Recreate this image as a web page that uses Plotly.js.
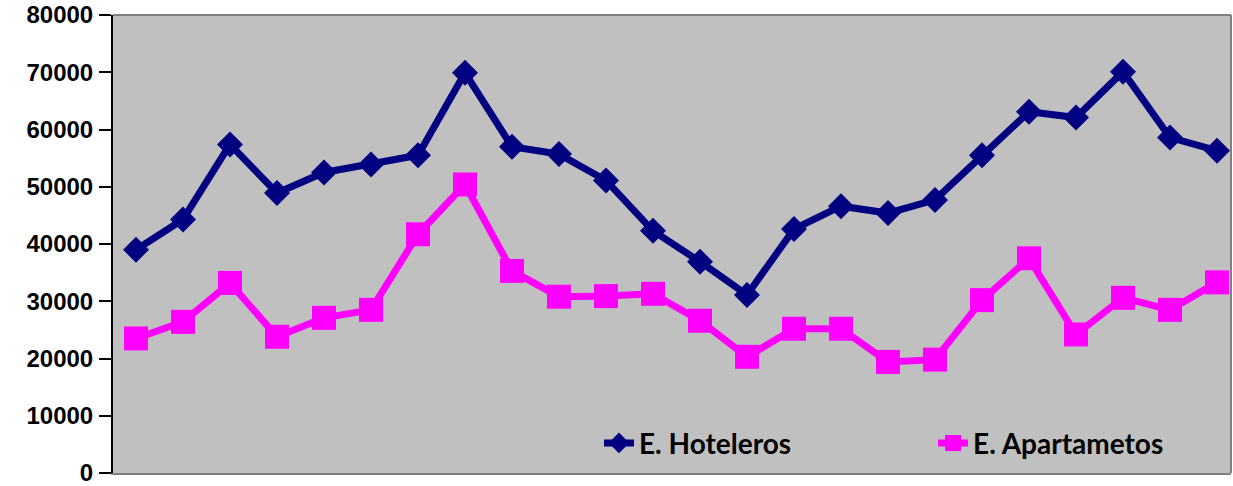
<!DOCTYPE html>
<html>
<head>
<meta charset="utf-8">
<script src="https://cdn.plot.ly/plotly-3.0.1.min.js"></script>
<style>html,body{margin:0;padding:0;background:#fff;}#chart{width:1233px;height:486px;}</style>
</head>
<body>
<div id="chart"></div>
<script>
// Periods (no labels shown on the x axis in the reference)
const periods = [1,2,3,4,5,6,7,8,9,10,11,12,13,14,15,16,17,18,19,20,21,22,23,24];
const hoteleros = [39000,44300,57400,48900,52500,53900,55500,69900,57000,55700,51100,42300,36900,31100,42600,46600,45400,47700,55500,63100,62100,70100,58600,56300];
const apartamentos = [23500,26400,33200,23800,27100,28500,41700,50400,35300,30800,30900,31300,26600,20300,25200,25200,19400,19800,30200,37500,24200,30600,28500,33300];
const seriesNames = ["E. Hoteleros", "E. Apartametos"];
const yTicks = [0,10000,20000,30000,40000,50000,60000,70000,80000];
const yTickText = ["0","10000","20000","30000","40000","50000","60000","70000","80000"];

const legendFont = {family: 'Lato, "Open Sans", sans-serif', size: 28, color: '#000000', weight: 'bold'};

const traces = [
  {x: periods, y: hoteleros, name: seriesNames[0], type: 'scatter', mode: 'lines+markers', legend: 'legend',
   line: {color: '#000080', width: 7}, marker: {symbol: 'diamond', size: 20, color: '#000080'}},
  {x: periods, y: apartamentos, name: seriesNames[1], type: 'scatter', mode: 'lines+markers', legend: 'legend2',
   line: {color: '#FF00FF', width: 7}, marker: {symbol: 'square', size: 24, color: '#FF00FF'}}
];

const layout = {
  width: 1233, height: 486,
  margin: {l: 113, r: 2, t: 15, b: 13},
  paper_bgcolor: '#FFFFFF',
  plot_bgcolor: '#C0C0C0',
  showlegend: true,
  legend: {x: 0.4347, y: 0.065, xanchor: 'left', yanchor: 'middle',
    bgcolor: 'rgba(0,0,0,0)', font: legendFont},
  legend2: {x: 0.7335, y: 0.065, xanchor: 'left', yanchor: 'middle',
    bgcolor: 'rgba(0,0,0,0)', font: legendFont},
  xaxis: {range: [0.511, 24.298], showticklabels: false, showgrid: false, zeroline: false,
    showline: true, linecolor: '#808080', linewidth: 2, ticks: ''},
  yaxis: {range: [0, 80000], tickvals: yTicks, ticktext: yTickText, showgrid: false, zeroline: false,
    showline: true, linecolor: '#000000', linewidth: 2, ticks: 'outside', ticklen: 12,
    tickcolor: '#000000', tickwidth: 2, ticklabelstandoff: 1, ticklabeloverflow: 'allow',
    tickfont: {family: '"Liberation Sans", Arial, sans-serif', size: 24, color: '#000000', weight: 'bold'}},
  shapes: [
    {type: 'line', xref: 'paper', yref: 'paper', x0: 0, x1: 1, y0: 1, y1: 1, line: {color: '#808080', width: 2}},
    {type: 'line', xref: 'paper', yref: 'paper', x0: 1, x1: 1, y0: 0, y1: 1, line: {color: '#808080', width: 2}}
  ]
};

Plotly.newPlot('chart', traces, layout, {displayModeBar: false, staticPlot: true});
</script>
</body>
</html>
